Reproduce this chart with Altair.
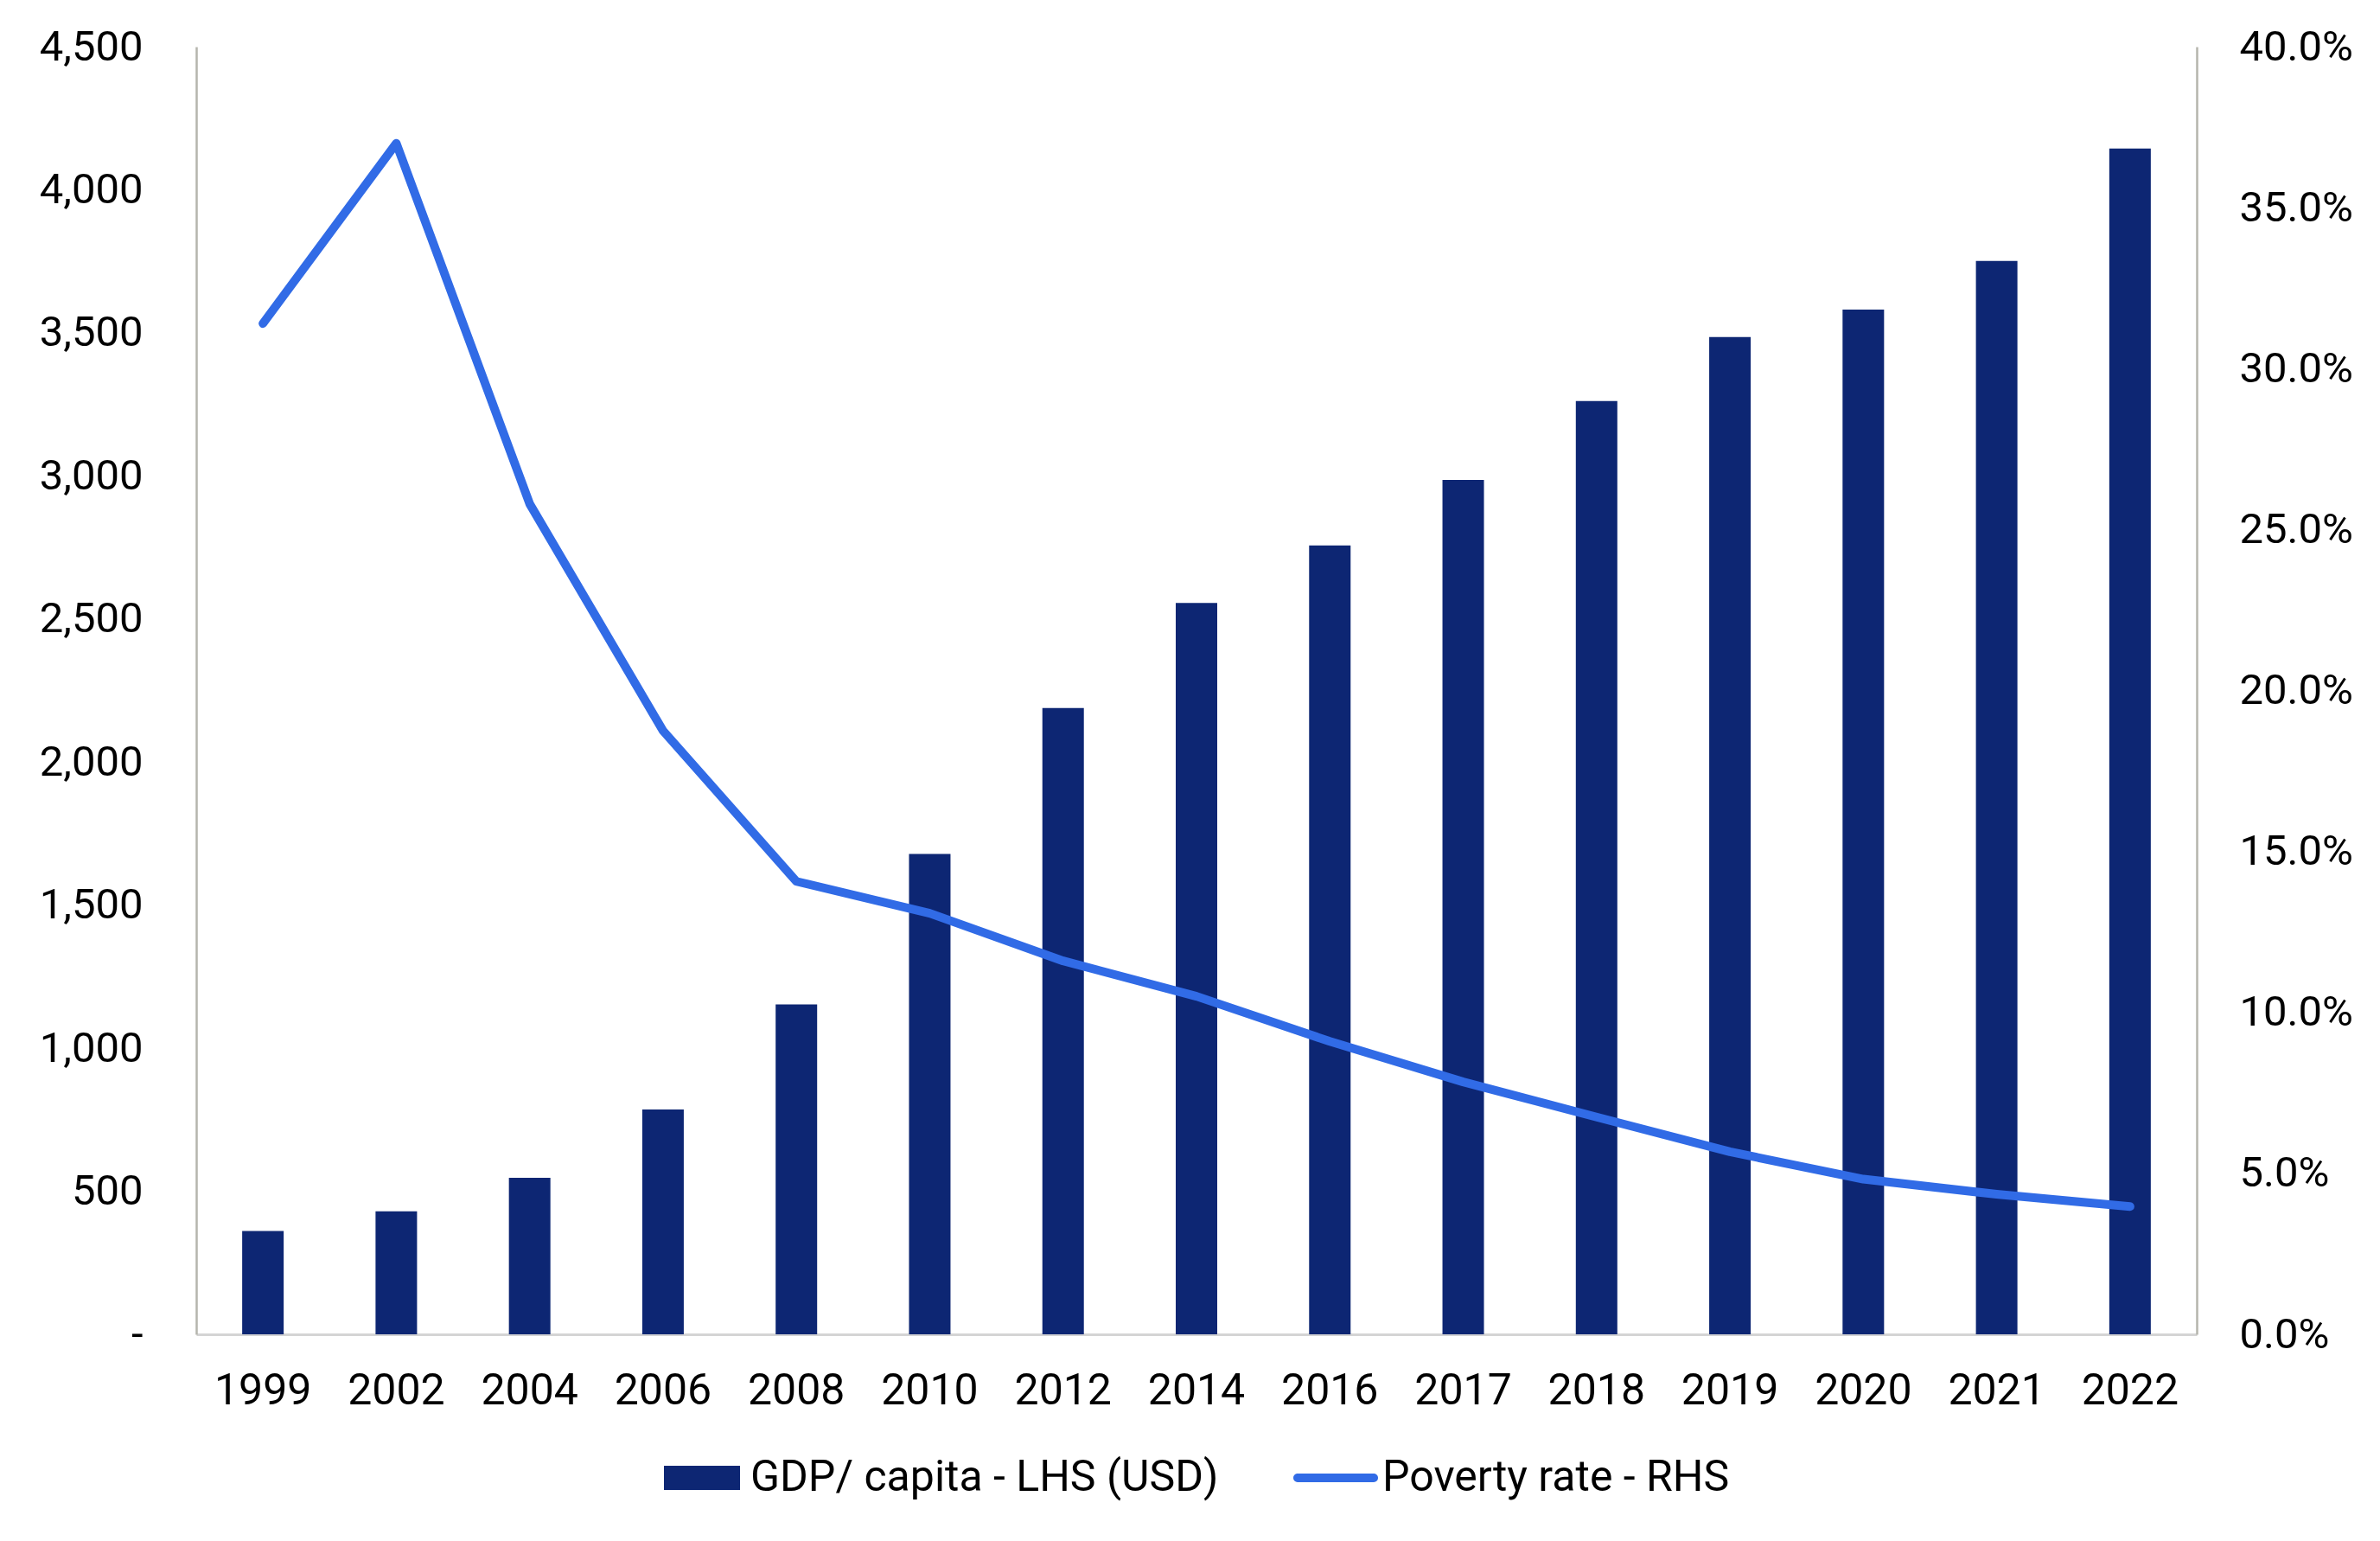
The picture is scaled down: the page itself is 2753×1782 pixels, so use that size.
import altair as alt
import pandas as pd

years = ["1999", "2002", "2004", "2006", "2008", "2010", "2012", "2014",
         "2016", "2017", "2018", "2019", "2020", "2021", "2022"]
gdp_per_capita = [361, 430, 547, 786, 1153, 1679, 2189, 2556, 2757, 2986,
                  3262, 3485, 3581, 3751, 4144]
poverty_rate = [0.314, 0.370, 0.258, 0.1875, 0.1407, 0.1308, 0.116, 0.105,
                0.091, 0.0784, 0.0675, 0.0567, 0.0482, 0.0435, 0.0397]
bar_label = "GDP/ capita - LHS (USD)"
line_label = "Poverty rate - RHS"
left_ticks = [0, 500, 1000, 1500, 2000, 2500, 3000, 3500, 4000, 4500]
right_ticks = [0, 0.05, 0.10, 0.15, 0.20, 0.25, 0.30, 0.35, 0.40]

df = pd.DataFrame({
    "year": years,
    "gdp": gdp_per_capita,
    "poverty": poverty_rate,
    "s1": [bar_label] * len(years),
    "s2": [line_label] * len(years),
})

FONT = "Roboto"
FS = 49
LFS = 50
BAR_COLOR = "#0D2673"
LINE_COLOR = "#316BE6"

x_enc = alt.X(
    "year:N", sort=years, title=None,
    scale=alt.Scale(paddingInner=0.69, paddingOuter=0.345),
    axis=alt.Axis(labelAngle=0, labelFontSize=FS + 1, labelPadding=40, ticks=False,
                  domainColor="#D4D4D4", domainWidth=3, labelColor="#000000",
                  labelFont=FONT),
)

bars = alt.Chart(df).mark_bar(width=48).encode(
    x=x_enc,
    y=alt.Y("gdp:Q", title=None,
            scale=alt.Scale(domain=[0, 4500], nice=False),
            axis=alt.Axis(values=left_ticks, orient="left", grid=False, ticks=False,
                          labelExpr="datum.value == 0 ? '-' : format(datum.value, ',')",
                          labelFontSize=FS, labelPadding=62, labelFont=FONT,
                          labelColor="#000000", domainColor="#B5B5AD", domainWidth=2.5)),
    color=alt.Color("s1:N", scale=alt.Scale(domain=[bar_label], range=[BAR_COLOR]),
                    legend=alt.Legend(orient="none", legendX=541, legendY=1611,
                                      title=None,
                                      symbolType="M-1,-0.318H1V0.318H-1Z",
                                      symbolSize=7744, symbolStrokeWidth=0,
                                      symbolOpacity=1, labelLimit=0,
                                      labelFontSize=LFS, labelFont=FONT,
                                      labelColor="#000000", labelOffset=12)),
)

line = alt.Chart(df).mark_line(strokeWidth=10, strokeCap="round", strokeJoin="round").encode(
    x=x_enc,
    y=alt.Y("poverty:Q", title=None,
            scale=alt.Scale(domain=[0, 0.4], nice=False),
            axis=alt.Axis(values=right_ticks, orient="right", grid=False, ticks=False,
                          format=".1%", labelFontSize=FS, labelPadding=49,
                          labelFont=FONT, labelColor="#000000",
                          domainColor="#B5B5AD", domainWidth=2.5)),
    stroke=alt.Stroke("s2:N", scale=alt.Scale(domain=[line_label], range=[LINE_COLOR]),
                      legend=alt.Legend(orient="none", legendX=1269, legendY=1606,
                                        title=None,
                                        symbolType="M-0.9,-0.1H0.9A0.1,0.1 0 0 1 0.9,0.1H-0.9A0.1,0.1 0 0 1 -0.9,-0.1Z",
                                        symbolSize=9604, symbolStrokeWidth=0,
                                        symbolFillColor=LINE_COLOR, labelLimit=0,
                                        labelFontSize=LFS, labelFont=FONT,
                                        labelColor="#000000", labelOffset=5)),
)

chart = alt.layer(bars, line).resolve_scale(
    y="independent", color="independent", stroke="independent"
).properties(
    width=2314, height=1489,
    padding={"left": 37, "top": 22, "right": 10, "bottom": 10},
).configure_view(
    stroke=None
)

chart.save("out.html", embed_options={"renderer": "svg", "actions": False})
